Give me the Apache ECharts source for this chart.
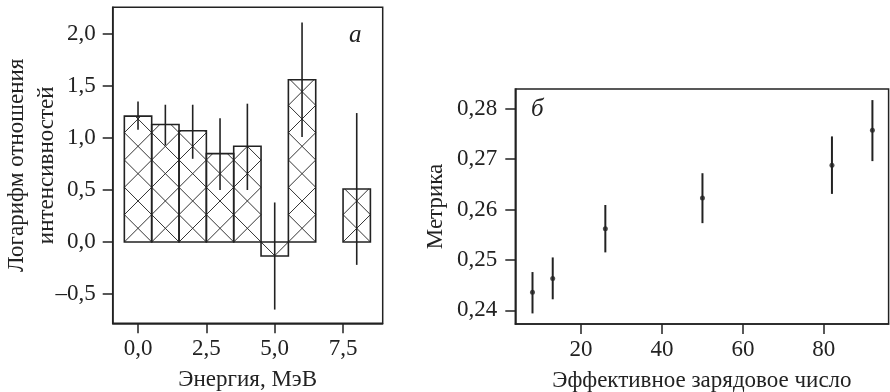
<!DOCTYPE html>
<html>
<head>
<meta charset="utf-8">
<script src="https://cdn.jsdelivr.net/npm/echarts@6/dist/echarts.min.js"></script>
<style>
html,body{margin:0;padding:0;background:#fff;}
#chart{width:890px;height:392px;}
</style>
</head>
<body>
<div id="chart"></div>
<script>
// ---- Panel a: energy bins ----
const energyX = [0, 1, 2, 3, 4, 5, 6, 8];
const logRatio = [1.21, 1.13, 1.07, 0.85, 0.92, -0.135, 1.56, 0.51];
const logLow = [1.08, 0.93, 0.80, 0.50, 0.50, -0.65, 1.01, -0.22];
const logHigh = [1.35, 1.32, 1.32, 1.19, 1.33, 0.38, 2.11, 1.24];
const energyTicks = [0, 2.5, 5, 7.5];
const logTicks = [-0.5, 0, 0.5, 1, 1.5, 2];

// ---- Panel б: effective charge number ----
const zNumber = [8, 13, 26, 50, 82, 92];
const metric = [0.2436, 0.2463, 0.2562, 0.2623, 0.2688, 0.2757];
const metricLow = [0.2394, 0.2422, 0.2515, 0.2573, 0.2631, 0.2696];
const metricHigh = [0.2476, 0.2505, 0.2609, 0.2672, 0.2745, 0.2817];
const zTicks = [20, 40, 60, 80];
const metricTicks = [0.24, 0.25, 0.26, 0.27, 0.28];

const FONT = "'Liberation Serif', 'Times New Roman', serif";
const FS = 23;
const INK = '#222';

function fmtComma(v, digits) {
  const s = Math.abs(v).toFixed(digits).replace('.', ',');
  return (v < 0 ? '\u2013' : '') + s;
}

const axisCommon = {
  axisLine: { show: true, onZero: false, lineStyle: { color: INK, width: 1.5 } },
  axisTick: { show: true, inside: false, length: 10, lineStyle: { color: INK, width: 1.5 } },
  splitLine: { show: false },
  nameLocation: 'middle',
  nameMoveOverlap: false,
  nameTextStyle: { fontFamily: FONT, fontSize: FS, color: INK },
};

const chart = echarts.init(document.getElementById('chart'), null, { renderer: 'canvas' });

const option = {
  backgroundColor: '#fff',
  animation: false,
  grid: [
    { left: 112.7, top: 7.3, width: 270, height: 316, outerBoundsMode: 'none', containLabel: false,
      show: true, borderColor: INK, borderWidth: 1.5, backgroundColor: 'transparent' },
    { left: 515.3, top: 89, width: 373.3, height: 235, outerBoundsMode: 'none', containLabel: false,
      show: true, borderColor: INK, borderWidth: 1.5, backgroundColor: 'transparent' }
  ],
  xAxis: [
    Object.assign({}, axisCommon, {
      type: 'value', gridIndex: 0, min: -0.926, max: 8.95,
      name: 'Энергия, МэВ', nameGap: 45,
      axisTick: Object.assign({}, axisCommon.axisTick, { customValues: energyTicks }),
      axisLabel: { customValues: energyTicks, margin: 14, fontFamily: FONT, fontSize: FS, color: INK,
        formatter: v => fmtComma(v, 1) }
    }),
    Object.assign({}, axisCommon, {
      type: 'value', gridIndex: 1, min: 3.75, max: 96,
      name: 'Эффективное зарядовое число', nameGap: 45,
      axisTick: Object.assign({}, axisCommon.axisTick, { customValues: zTicks }),
      axisLabel: { customValues: zTicks, margin: 14, fontFamily: FONT, fontSize: FS, color: INK,
        formatter: v => String(v) }
    })
  ],
  yAxis: [
    Object.assign({}, axisCommon, {
      type: 'value', gridIndex: 0, min: -0.782, max: 2.257,
      name: 'Логарифм отношения\nинтенсивностей', nameGap: 51,
      nameTextStyle: { fontFamily: FONT, fontSize: FS, color: INK, lineHeight: 30 },
      axisTick: Object.assign({}, axisCommon.axisTick, { customValues: logTicks }),
      axisLabel: { customValues: logTicks, margin: 17, fontFamily: FONT, fontSize: FS, color: INK,
        formatter: v => fmtComma(v, 1) }
    }),
    Object.assign({}, axisCommon, {
      type: 'value', gridIndex: 1, min: 0.2373, max: 0.2839,
      name: 'Метрика', nameGap: 68,
      axisTick: Object.assign({}, axisCommon.axisTick, { customValues: metricTicks }),
      axisLabel: { customValues: metricTicks, margin: 18, fontFamily: FONT, fontSize: FS, color: INK,
        formatter: v => fmtComma(v, 2) }
    })
  ],
  graphic: [
    { type: 'text', left: 349, top: 23, style: { text: 'а', font: "italic 25px 'Liberation Serif'", fill: INK } },
    { type: 'text', left: 531, top: 97, style: { text: 'б', font: "italic 25px 'Liberation Serif'", fill: INK } }
  ],
  series: [
    {
      type: 'custom', xAxisIndex: 0, yAxisIndex: 0, z: 2,
      data: energyX.map((x, i) => [x, logRatio[i]]),
      renderItem: function (params, api) {
        const x = api.value(0), v = api.value(1);
        const p0 = api.coord([x - 0.5, 0]);
        const p1 = api.coord([x + 0.5, v]);
        const left = p0[0], right = p1[0], yb = p0[1], yt = p1[1];
        const w = right - left;
        const h = Math.abs(yt - yb);
        const dir = yt < yb ? -1 : 1;
        const children = [];
        for (let d0 = 0; d0 < h - 0.01; d0 += w) {
          const t = Math.min(w, h - d0);
          children.push({ type: 'line', shape: { x1: left, y1: yb + dir * d0, x2: left + t, y2: yb + dir * (d0 + t) },
            style: { stroke: '#333', lineWidth: 1 } });
          children.push({ type: 'line', shape: { x1: right, y1: yb + dir * d0, x2: right - t, y2: yb + dir * (d0 + t) },
            style: { stroke: '#333', lineWidth: 1 } });
        }
        children.push({ type: 'rect', shape: { x: left, y: Math.min(yb, yt), width: w, height: h },
          style: { fill: 'none', stroke: INK, lineWidth: 1.6 } });
        return { type: 'group', children: children };
      }
    },
    {
      type: 'custom', xAxisIndex: 0, yAxisIndex: 0, z: 3,
      data: energyX.map((x, i) => [x, logLow[i], logHigh[i]]),
      renderItem: function (params, api) {
        const a = api.coord([api.value(0), api.value(1)]);
        const b = api.coord([api.value(0), api.value(2)]);
        return { type: 'line', shape: { x1: a[0], y1: a[1], x2: b[0], y2: b[1] },
          style: { stroke: INK, lineWidth: 1.6 } };
      }
    },
    {
      type: 'custom', xAxisIndex: 1, yAxisIndex: 1, z: 3,
      data: zNumber.map((x, i) => [x, metricLow[i], metricHigh[i]]),
      renderItem: function (params, api) {
        const a = api.coord([api.value(0), api.value(1)]);
        const b = api.coord([api.value(0), api.value(2)]);
        return { type: 'line', shape: { x1: a[0], y1: a[1], x2: b[0], y2: b[1] },
          style: { stroke: INK, lineWidth: 2 } };
      }
    },
    {
      type: 'scatter', xAxisIndex: 1, yAxisIndex: 1, z: 4,
      symbol: 'circle', symbolSize: 5,
      itemStyle: { color: INK },
      data: zNumber.map((x, i) => [x, metric[i]])
    }
  ]
};
chart.setOption(option);
</script>
</body>
</html>
